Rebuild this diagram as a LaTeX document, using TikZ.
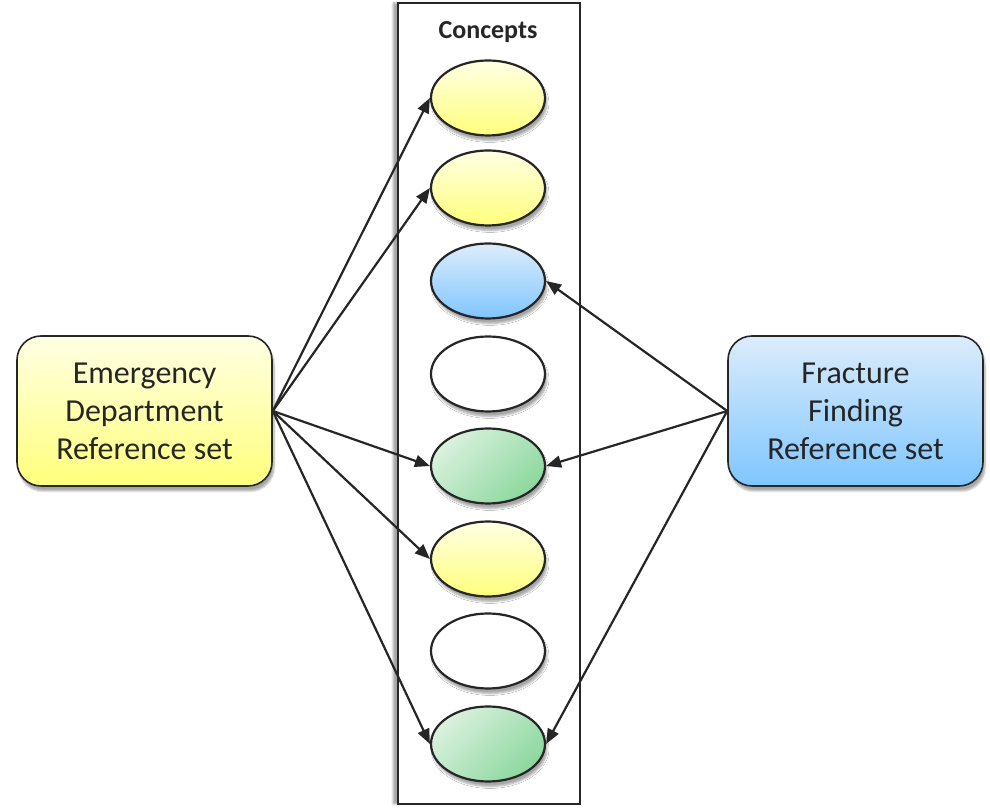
\documentclass[tikz,border=0pt]{standalone}
\usepackage{fontspec}
\setmainfont{Carlito}
\usetikzlibrary{arrows.meta,shadows.blur,shapes.geometric}
\definecolor{ink}{HTML}{262626}
\definecolor{ytop}{HTML}{FFFFE4}
\definecolor{ybot}{HTML}{FFFF7C}
\definecolor{btop}{HTML}{DCECFB}
\definecolor{bbot}{HTML}{7FC6FF}
\definecolor{gtop}{HTML}{DAF1DE}
\definecolor{gbot}{HTML}{8CD89E}
\tikzset{
  x=1pt,y=1pt,
  concept/.style={ellipse,draw=ink,line width=2.2pt,minimum width=114pt,minimum height=75pt,inner sep=0pt,
    blur shadow={shadow xshift=2pt,shadow yshift=-5pt,shadow blur steps=6,shadow opacity=35}},
  cyel/.style={concept,top color=ytop,bottom color=ybot},
  cblue/.style={concept,top color=btop,bottom color=bbot},
  cwhite/.style={concept,fill=white},
  cgreen/.style={concept,shading=axis,left color=gtop,right color=gbot,shading angle=45},
  refbox/.style={draw=ink,line width=1.6pt,rounded corners=24pt,minimum width=255pt,minimum height=150pt,
    align=center,text=ink,font=\fontsize{32}{38}\selectfont,
    blur shadow={shadow xshift=2pt,shadow yshift=-5pt,shadow blur steps=6,shadow opacity=35}},
  conn/.style={draw=ink,line width=2.2pt,-{Triangle[length=15pt,width=12pt]}},
}
\begin{document}
\begin{tikzpicture}
\useasboundingbox (0,0) rectangle (990,808);
\node[draw=ink,line width=1.6pt,fill=white,minimum width=182pt,minimum height=801pt,inner sep=0pt,
  blur shadow={shadow xshift=-5pt,shadow yshift=0pt,shadow blur steps=6,shadow opacity=35}] (box) at (489,404.5) {};
\node[font=\bfseries\fontsize{26}{30}\selectfont,text=ink] (hdr) at (488,776) {Concepts};
\node[cyel] (c1) at (488,710) {};
\node[cyel] (c2) at (488,620) {};
\node[cblue] (c3) at (488,527) {};
\node[cwhite] (c4) at (488,434) {};
\node[cgreen] (c5) at (488,342) {};
\node[cyel] (c6) at (488,249) {};
\node[cwhite] (c7) at (488,157) {};
\node[cgreen] (c8) at (488,64) {};
\node[refbox,top color=ytop,bottom color=ybot] (ed) at (144.5,397) {Emergency\\Department\\Reference set};
\node[refbox,top color=btop,bottom color=bbot] (ff) at (855.5,397) {Fracture\\Finding\\Reference set};
\foreach \t in {c1,c2,c5,c6,c8} \draw[conn] (ed.east) -- (\t.west);
\foreach \t in {c3,c5,c8} \draw[conn] (ff.west) -- (\t.east);
\end{tikzpicture}
\end{document}
